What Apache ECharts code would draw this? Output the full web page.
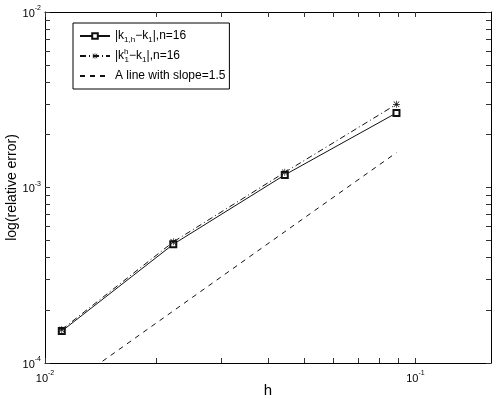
<!DOCTYPE html>
<html>
<head>
<meta charset="utf-8">
<script src="https://cdn.jsdelivr.net/npm/echarts@6/dist/echarts.min.js"></script>
<style>
  html, body { margin: 0; padding: 0; background: #fff; }
  #chart { width: 498px; height: 400px; }
</style>
</head>
<body>
<div id="chart"></div>
<script>
// step sizes h
var hValues = [0.0111, 0.0222, 0.0444, 0.0889];
// |k_{1,h} - k_1|
var errSquare = [1.52e-4, 4.75e-4, 1.18e-3, 2.66e-3];
// |k_1^h - k_1|
var errStar = [1.55e-4, 4.9e-4, 1.22e-3, 2.98e-3];
// reference line, slope 1.5
var slopeLine = [7.0e-5, 1.98e-4, 5.6e-4, 1.58e-3];

var xMajor = [0.01, 0.1];
var xTicks = [0.01, 0.02, 0.03, 0.04, 0.05, 0.06, 0.07, 0.08, 0.09, 0.1];
var yMajor = [1e-4, 1e-3, 1e-2];
var yTicks = [1e-4, 2e-4, 3e-4, 4e-4, 5e-4, 6e-4, 7e-4, 8e-4, 9e-4,
              1e-3, 2e-3, 3e-3, 4e-3, 5e-3, 6e-3, 7e-3, 8e-3, 9e-3, 1e-2];

var seriesNames = ['sq', 'st', 'sl'];
var legendText = {
  sq: '|k{sub|1,h}\u2212k{sub|1}|,n=16',
  st: '|k{sup|h}{sub|1}\u2212k{sub|1}|,n=16',
  sl: 'A line with slope=1.5'
};

var FONT = 'Liberation Sans';
var starPath = 'path://M4.5,0L5.5,0L5.5,10L4.5,10Z M0,4.5L10,4.5L10,5.5L0,5.5Z ' +
  'M0.7,1.4L1.4,0.7L9.3,8.6L8.6,9.3Z M8.6,0.7L9.3,1.4L1.4,9.3L0.7,8.6Z';

function pow10Label(v){
  var e = Math.round(Math.log10(v));
  return '{b|10}{e|' + e + '}';
}
var powRich = {
  b: {fontFamily: FONT, fontSize: 11, color: '#000', verticalAlign: 'bottom', lineHeight: 14},
  e: {fontFamily: FONT, fontSize: 7, color: '#000', verticalAlign: 'top', lineHeight: 14}
};

function makeX(pos, show){
  return {
    type: 'log', min: 0.01, max: 0.16, position: pos,
    axisLine: {onZero: false, lineStyle: {color: '#000', width: 1}},
    axisTick: {show: true, inside: true, length: 5, customValues: xTicks,
               lineStyle: {color: '#333', width: 1}},
    axisLabel: {show: show, customValues: xMajor, formatter: pow10Label,
                rich: powRich, margin: 7},
    splitLine: {show: false},
    name: show ? 'h' : '', nameLocation: 'middle', nameGap: 20, nameMoveOverlap: false,
    nameTextStyle: {fontFamily: FONT, fontSize: 15, color: '#000'}
  };
}
function makeY(pos, show){
  return {
    type: 'log', min: 1e-4, max: 1e-2, position: pos,
    axisLine: {onZero: false, lineStyle: {color: '#000', width: 1}},
    axisTick: {show: true, inside: true, length: 5, customValues: yTicks,
               lineStyle: {color: '#333', width: 1}},
    axisLabel: {show: show, customValues: yMajor, formatter: pow10Label,
                rich: powRich, margin: 4},
    splitLine: {show: false},
    name: show ? 'log(relative error)' : '', nameLocation: 'middle', nameGap: 26,
    nameRotate: 90, nameMoveOverlap: false,
    nameTextStyle: {fontFamily: FONT, fontSize: 14, color: '#000'}
  };
}

var chart = echarts.init(document.getElementById('chart'), null, {renderer: 'canvas'});
var option = {
  animation: false,
  backgroundColor: '#fff',
  grid: {left: 45, right: 7, top: 12, bottom: 37, outerBoundsMode: 'none'},
  xAxis: [makeX('bottom', true), makeX('top', false)],
  yAxis: [makeY('left', true), makeY('right', false)],
  legend: {
    orient: 'vertical', left: 73, top: 23,
    padding: [5, 4, 5, 6], itemGap: 4, itemWidth: 30, itemHeight: 7,
    backgroundColor: '#fff', borderColor: '#000', borderWidth: 1, borderRadius: 0,
    data: ['sq', 'st', {name: 'sl', itemStyle: {opacity: 0}}],
    formatter: function(name){ return legendText[name]; },
    textStyle: {
      fontFamily: FONT, fontSize: 12, color: '#000', lineHeight: 16,
      rich: {
        sub: {fontFamily: FONT, fontSize: 8, color: '#000', verticalAlign: 'bottom', lineHeight: 16},
        sup: {fontFamily: FONT, fontSize: 8, color: '#000', verticalAlign: 'top', lineHeight: 16, width: 0.5}
      }
    }
  },
  series: [
    {
      name: 'sq', type: 'line', data: hValues.map(function(h, i){ return [h, errSquare[i]]; }),
      symbol: 'emptyRect', symbolSize: 6, clip: true,
      lineStyle: {color: '#111', width: 1, type: 'solid'},
      itemStyle: {color: '#111', borderColor: '#111', borderWidth: 1}
    },
    {
      name: 'st', type: 'line', data: hValues.map(function(h, i){ return [h, errStar[i]]; }),
      symbol: starPath, symbolSize: 7, clip: true,
      lineStyle: {color: '#111', width: 1, type: [6, 3, 1, 3]},
      itemStyle: {color: '#111'}
    },
    {
      name: 'sl', type: 'line', data: hValues.map(function(h, i){ return [h, slopeLine[i]]; }),
      symbol: 'none', clip: true,
      lineStyle: {color: '#111', width: 1, type: [5, 5]},
      itemStyle: {color: '#111'}
    }
  ]
};
chart.setOption(option);
</script>
</body>
</html>
